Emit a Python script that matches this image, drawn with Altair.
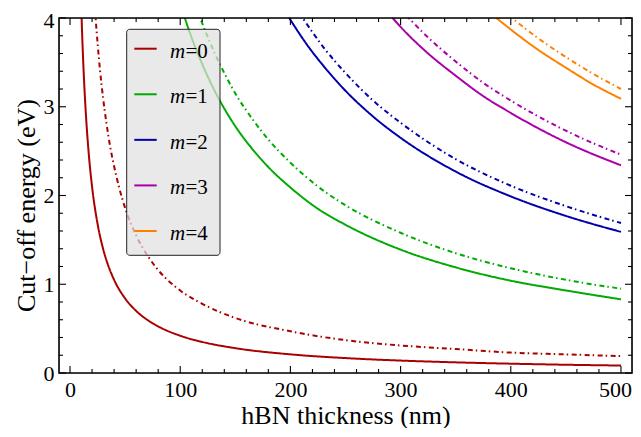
import altair as alt
import pandas as pd

# ---- data ----
m_labels = ["0", "1", "2", "3", "4"]
colors = ["#aa0000", "#00aa00", "#0000aa", "#aa00aa", "#ff8000"]

d_m0_solid = [10, 11, 12, 13, 14, 15, 17, 20, 25, 30, 35, 40, 50, 60, 70, 80, 100, 120, 150, 200, 250, 300, 350, 400, 450, 500]
e_m0_solid = [4.20, 3.82, 3.50, 3.23, 3.00, 2.80, 2.47, 2.10, 1.68, 1.40, 1.20, 1.05, 0.84, 0.70, 0.60, 0.525, 0.42, 0.35, 0.28, 0.21, 0.168, 0.14, 0.12, 0.105, 0.093, 0.084]
d_m0_dash = [22, 23, 25, 27, 30, 33, 36, 40, 45, 50, 60, 70, 80, 100, 120, 150, 200, 250, 300, 350, 400, 450, 500]
e_m0_dash = [4.23, 4.04, 3.72, 3.44, 3.10, 2.82, 2.58, 2.33, 2.07, 1.86, 1.55, 1.33, 1.16, 0.93, 0.78, 0.62, 0.47, 0.37, 0.31, 0.27, 0.23, 0.21, 0.19]

d_m1_solid = [100, 104, 110, 120, 130, 140, 150, 165, 180, 200, 225, 250, 300, 350, 400, 450, 500]
e_m1_solid = [4.17, 4.01, 3.79, 3.48, 3.21, 2.98, 2.78, 2.53, 2.32, 2.09, 1.85, 1.67, 1.39, 1.19, 1.04, 0.93, 0.83]
d_m1_dash = [115, 120, 130, 140, 150, 165, 180, 200, 225, 250, 300, 350, 400, 450, 500]
e_m1_dash = [4.11, 3.94, 3.64, 3.38, 3.15, 2.87, 2.63, 2.37, 2.10, 1.89, 1.58, 1.35, 1.18, 1.05, 0.95]

d_m2_solid = [195, 200, 215, 230, 250, 275, 300, 350, 400, 450, 500]
e_m2_solid = [4.08, 3.98, 3.70, 3.46, 3.18, 2.89, 2.65, 2.27, 1.99, 1.77, 1.59]
d_m2_dash = [208, 215, 230, 250, 275, 300, 350, 400, 450, 500]
e_m2_dash = [4.06, 3.93, 3.67, 3.38, 3.07, 2.82, 2.41, 2.11, 1.88, 1.69]

d_m3_solid = [290, 300, 325, 350, 375, 400, 450, 500]
e_m3_solid = [4.04, 3.90, 3.60, 3.35, 3.12, 2.93, 2.60, 2.34]
d_m3_dash = [305, 325, 350, 375, 400, 450, 500]
e_m3_dash = [4.03, 3.78, 3.51, 3.27, 3.07, 2.73, 2.46]

d_m4_solid = [385, 400, 425, 450, 475, 500]
e_m4_solid = [4.02, 3.87, 3.64, 3.44, 3.25, 3.09]
d_m4_dash = [398, 425, 450, 475, 500]
e_m4_dash = [4.03, 3.77, 3.56, 3.37, 3.20]

x_major = [0, 100, 200, 300, 400, 500]
x_minor = [v for v in range(20, 500, 20) if v % 100 != 0]
y_major = [0, 1, 2, 3, 4]
y_minor = [round(0.2 * i, 1) for i in range(1, 20) if i % 5 != 0]

# ---- build tables ----
series = [
    ("0", "solid", d_m0_solid, e_m0_solid), ("0", "dotdash", d_m0_dash, e_m0_dash),
    ("1", "solid", d_m1_solid, e_m1_solid), ("1", "dotdash", d_m1_dash, e_m1_dash),
    ("2", "solid", d_m2_solid, e_m2_solid), ("2", "dotdash", d_m2_dash, e_m2_dash),
    ("3", "solid", d_m3_solid, e_m3_solid), ("3", "dotdash", d_m3_dash, e_m3_dash),
    ("4", "solid", d_m4_solid, e_m4_solid), ("4", "dotdash", d_m4_dash, e_m4_dash),
]
rows = []
for m, kind, ds, es in series:
    for d, e in zip(ds, es):
        rows.append({"m": m, "kind": kind, "series": m + kind, "d": d, "E": e})
curves_df = pd.DataFrame(rows)

W, H = 573, 355
FONT = "Liberation Serif"
xscale = alt.Scale(domain=[-10, 510], nice=False, zero=False)
yscale = alt.Scale(domain=[0, 4], nice=False, zero=False)
cscale = alt.Scale(domain=m_labels, range=colors)

xaxis = alt.Axis(title="hBN thickness (nm)", values=x_major, ticks=False, domain=False, grid=False,
                 labelPadding=6, labelFontSize=22, titleFontSize=26, titleFontWeight="normal",
                 labelOffset={"expr": "datum.value == 500 ? -6 : 0"},
                 titleBaseline="alphabetic", titleY=50, labelFont=FONT, titleFont=FONT,
                 labelColor="black", titleColor="black")

curves = alt.Chart(curves_df).mark_line(interpolate="monotone", strokeWidth=2, clip=True).encode(
    x=alt.X("d:Q", scale=xscale, axis=xaxis),
    y=alt.Y("E:Q", scale=yscale,
            axis=alt.Axis(title="Cut\u2212off energy (eV)", values=y_major, ticks=False, domain=False, grid=False,
                          labelPadding=5, labelFontSize=22, titleFontSize=26, titleFontWeight="normal",
                          labelOffset={"expr": "datum.value == 4 ? 2 : 0"},
                          titleX=-33, titleY=187, titleBaseline="middle", titleAlign="center",
                          labelFont=FONT, titleFont=FONT, labelColor="black", titleColor="black")),
    color=alt.Color("m:N", scale=cscale, legend=None),
    strokeDash=alt.StrokeDash("kind:N", scale=alt.Scale(domain=["solid", "dotdash"], range=[[1, 0], [5, 3, 1.5, 3.5]]), legend=None),
    detail="series:N",
    order="d:Q",
)

def xticks(vals, length, top):
    df = pd.DataFrame({"d": vals})
    if top:
        yv, y2v = 0, length
    else:
        yv, y2v = H, H - length
    return alt.Chart(df).mark_rule(color="black", strokeWidth=1.1).encode(
        x=alt.X("d:Q", scale=xscale, axis=xaxis), y=alt.value(yv), y2=alt.value(y2v))

def yticks(vals, length, right):
    df = pd.DataFrame({"v": vals})
    if right:
        xv, x2v = W, W - length
    else:
        xv, x2v = 0, length
    return alt.Chart(df).mark_rule(color="black", strokeWidth=1.1).encode(
        y=alt.Y("v:Q", scale=yscale, axis=None), x=alt.value(xv), x2=alt.value(x2v))

ticks = [
    xticks(x_major, 7, False), xticks(x_major, 7, True),
    xticks(x_minor, 4, False), xticks(x_minor, 4, True),
    yticks(y_major, 7, False), yticks(y_major, 7, True),
    yticks(y_minor, 4, False), yticks(y_minor, 4, True),
]

frame = alt.Chart(pd.DataFrame({"a": [0]})).mark_rect(
    fill=None, stroke="black", strokeWidth=1.6
).encode(x=alt.value(0), x2=alt.value(W), y=alt.value(0), y2=alt.value(H))

# ---- legend (drawn by hand to get the italic m) ----
legend_df = pd.DataFrame({"m": m_labels, "mi": [0, 1, 2, 3, 4], "rest": ["=" + m for m in m_labels]})
lscale = alt.Scale(domain=[0, 4], range=[30.7, 213])

box = alt.Chart(pd.DataFrame({"a": [0]})).mark_rect(
    fill="#e0e0e0", fillOpacity=0.72, stroke="#222222", strokeWidth=1, cornerRadius=3
).encode(x=alt.value(67.7), x2=alt.value(161), y=alt.value(11.3), y2=alt.value(237.3))

sym = alt.Chart(legend_df).mark_rule(strokeWidth=2).encode(
    x=alt.value(75.3), x2=alt.value(97.7),
    y=alt.Y("mi:Q", scale=lscale, axis=None),
    color=alt.Color("m:N", scale=cscale, legend=None),
)
lab_m = alt.Chart(legend_df).mark_text(
    text="m", font=FONT, fontSize=21, fontStyle="italic", align="left", baseline="alphabetic", dy=9, color="black"
).encode(x=alt.value(111), y=alt.Y("mi:Q", scale=lscale, axis=None))
lab_rest = alt.Chart(legend_df).mark_text(
    font=FONT, fontSize=21, align="left", baseline="alphabetic", dy=9, color="black"
).encode(x=alt.value(126.5), y=alt.Y("mi:Q", scale=lscale, axis=None), text="rest:N")

chart = alt.layer(curves, *ticks, frame, box, sym, lab_m, lab_rest).resolve_scale(y="independent").properties(
    width=W, height=H,
    autosize=alt.AutoSizeParams(type="none"),
    padding={"left": 51, "top": 10, "right": 1, "bottom": 55},
).configure_view(stroke=None).configure(background="white")

chart.save("out.html", embed_options={"renderer": "svg", "actions": False})
